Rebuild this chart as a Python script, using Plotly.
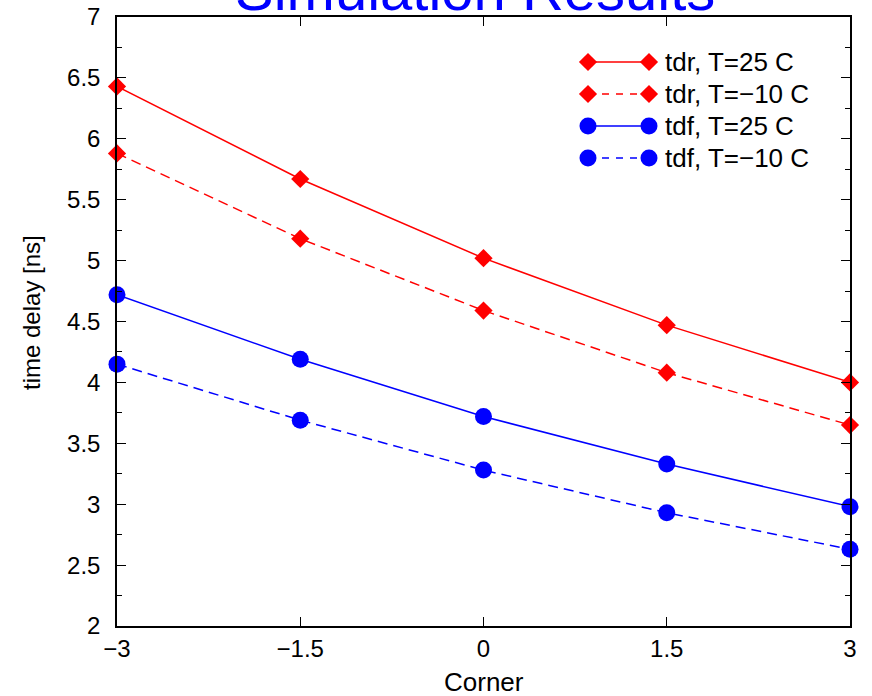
import plotly.graph_objects as go

# Process corner sweep and measured delays (ns)
corner = [-3, -1.5, 0, 1.5, 3]
tdr_25 = [6.43, 5.67, 5.02, 4.47, 4.00]
tdr_m10 = [5.88, 5.18, 4.59, 4.08, 3.65]
tdf_25 = [4.72, 4.19, 3.72, 3.33, 2.98]
tdf_m10 = [4.15, 3.69, 3.28, 2.93, 2.63]

series_names = ["tdr, T=25 C", "tdr, T=\u221210 C", "tdf, T=25 C", "tdf, T=\u221210 C"]
series_values = [tdr_25, tdr_m10, tdf_25, tdf_m10]

x_ticks = [-3, -1.5, 0, 1.5, 3]
x_tick_text = ["\u22123", "\u22121.5", "0", "1.5", "3"]
y_ticks = [2, 2.5, 3, 3.5, 4, 4.5, 5, 5.5, 6, 6.5, 7]
y_tick_text = ["2", "2.5", "3", "3.5", "4", "4.5", "5", "5.5", "6", "6.5", "7"]

RED = "#ff0000"
BLUE = "#0000ff"
styles = [
    dict(color=RED, dash="solid", symbol="diamond", size=14),
    dict(color=RED, dash="10px,6px", symbol="diamond", size=14),
    dict(color=BLUE, dash="solid", symbol="circle", size=17),
    dict(color=BLUE, dash="10px,6px", symbol="circle", size=17),
]
FONT = "Liberation Sans, Arial, sans-serif"

fig = go.Figure()
for name, vals, st in zip(series_names, series_values, styles):
    fig.add_trace(go.Scatter(
        x=corner, y=vals, name=name, mode="lines+markers",
        line=dict(color=st["color"], width=1.5, dash=st["dash"]),
        marker=dict(color=st["color"], symbol=st["symbol"], size=st["size"]),
        cliponaxis=False, showlegend=False,
    ))

# Legend box drawn on an overlay axis measured in plot pixels
leg_rows = [62, 94, 126, 158]
leg_dash = ["solid", "7px,7px", "solid", "7px,7px"]
for name, st, ry, dsh in zip(series_names, styles, leg_rows, leg_dash):
    fig.add_trace(go.Scatter(
        x=[588, 649], y=[ry, ry], mode="lines+markers",
        xaxis="x2", yaxis="y2", showlegend=False, hoverinfo="skip",
        line=dict(color=st["color"], width=1.4, dash=dsh),
        marker=dict(color=st["color"], symbol=st["symbol"], size=st["size"]),
    ))
    fig.add_annotation(
        x=663, y=ry, xref="x2", yref="y2", text=name, showarrow=False,
        xanchor="left", yanchor="middle",
        font=dict(family=FONT, size=26, color="black"),
    )

fig.add_annotation(
    x=0.5, y=1, xref="paper", yref="paper", text="Simulation Results",
    showarrow=False, xanchor="center", yanchor="bottom", yshift=-7, xshift=-9,
    font=dict(family=FONT, size=58, color=BLUE),
)

# Axis titles
fig.add_annotation(
    x=0.5, y=-0.092, xref="paper", yref="paper", text="Corner",
    showarrow=False, xanchor="center", yanchor="middle",
    font=dict(family=FONT, size=26, color="black"),
)
fig.add_annotation(
    x=(31 - 117) / 733, y=(626 - 313) / 609, xref="paper", yref="paper",
    text="time delay [ns]", textangle=-90, showarrow=False,
    xanchor="center", yanchor="middle",
    font=dict(family=FONT, size=24, color="black"),
)

axis_common = dict(
    showline=True, linecolor="black", linewidth=1.5, mirror="ticks",
    ticks="inside", tickcolor="black", tickwidth=1, ticklen=9,
    showgrid=False, zeroline=False, automargin=False,
    tickfont=dict(family=FONT, size=24, color="black"),
)

fig.update_layout(
    width=872, height=696,
    margin=dict(l=117, r=22, t=17, b=70),
    paper_bgcolor="white", plot_bgcolor="white",
    showlegend=False,
    xaxis=dict(
        range=[-3, 3], tickmode="array", tickvals=x_ticks, ticktext=x_tick_text,
        ticklabelstandoff=0,
        **axis_common,
    ),
    yaxis=dict(
        range=[2, 7], tickmode="array", tickvals=y_ticks, ticktext=y_tick_text,
        minor=dict(ticks="inside", ticklen=5, tickmode="linear", tick0=2, dtick=0.25,
                   tickcolor="black", tickwidth=1),
        ticklabelstandoff=10,
        **axis_common,
    ),
    xaxis2=dict(range=[117, 850], overlaying="x", visible=False, fixedrange=True),
    yaxis2=dict(range=[626, 17], overlaying="y", visible=False, fixedrange=True),
)

fig.write_html("out.html")
